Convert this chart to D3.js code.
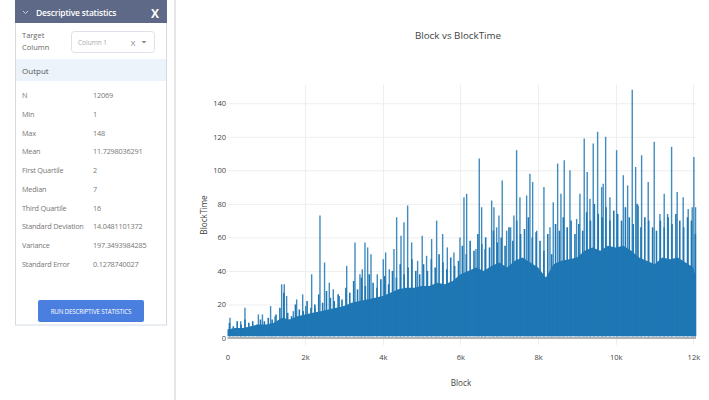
<!DOCTYPE html>
<html>
<head>
<meta charset="utf-8">
<script src="https://cdn.jsdelivr.net/npm/d3@7"></script>
<style>
  html, body { margin: 0; padding: 0; background: #fff; }
  svg { display: block; font-family: "Open Sans", sans-serif; }
</style>
</head>
<body>
<div id="chart"></div>
<script>
// stats panel
const statLabels = ["N", "Min", "Max", "Mean", "First Quartile", "Median", "Third Quartile", "Standard Deviation", "Variance", "Standard Error"];
const statValues = ["12069", "1", "148", "11.7298036291", "2", "7", "16", "14.0481101372", "197.3493984285", "0.1278740027"];

// dense part of the series (top of the solid band), read every 200 blocks
const bodyBlocks = [0, 200, 400, 600, 800, 1000, 1200, 1400, 1600, 1800, 2000, 2200, 2400, 2600, 2800, 3000, 3200, 3400, 3600, 3800,
  4000, 4200, 4400, 4600, 4800, 5000, 5200, 5400, 5600, 5800, 6000, 6200, 6400, 6600, 6800, 7000, 7200, 7400, 7600, 7800,
  8000, 8200, 8400, 8600, 8800, 9000, 9200, 9400, 9600, 9800, 10000, 10200, 10400, 10600, 10800, 11000, 11200, 11400, 11600, 11800,
  12000, 12068];
const bodyTimes = [5, 6, 6, 7, 8, 8, 9, 12, 11, 13, 14, 15, 16, 17, 18, 19, 21, 22, 23, 24,
  25, 27, 29, 30, 30, 31, 31, 33, 32, 34, 38, 40, 42, 40, 43, 45, 42, 46, 48, 45,
  42, 36, 44, 46, 47, 48, 52, 54, 52, 55, 54, 55, 52, 48, 46, 44, 48, 47, 48, 45,
  42, 35];

// medium spikes forming the ragged top of the band, one every 100 blocks (50, 150, ...)
const fringeBlocks = [50, 150, 250, 350, 450, 550, 650, 750, 850, 950, 1050, 1150, 1250, 1350, 1450, 1550, 1650, 1750, 1850, 1950,
  2050, 2150, 2250, 2350, 2450, 2550, 2650, 2750, 2850, 2950, 3050, 3150, 3250, 3350, 3450, 3550, 3650, 3750, 3850, 3950,
  4050, 4150, 4250, 4350, 4450, 4550, 4650, 4750, 4850, 4950, 5050, 5150, 5250, 5350, 5450, 5550, 5650, 5750, 5850, 5950,
  6050, 6150, 6250, 6350, 6450, 6550, 6650, 6750, 6850, 6950, 7050, 7150, 7250, 7350, 7450, 7550, 7650, 7750, 7850, 7950,
  8050, 8150, 8250, 8350, 8450, 8550, 8650, 8750, 8850, 8950, 9050, 9150, 9250, 9350, 9450, 9550, 9650, 9750, 9850, 9950,
  10050, 10150, 10250, 10350, 10450, 10550, 10650, 10750, 10850, 10950, 11050, 11150, 11250, 11350, 11450, 11550, 11650, 11750, 11850, 11950,
  12050];
const fringeTimes = [9, 7, 10, 8, 11, 9, 10, 8, 11, 10,
  12, 11, 14, 18, 27, 15, 13, 20, 17, 16,
  22, 18, 20, 26, 21, 28, 24, 22, 26, 23,
  30, 27, 34, 29, 36, 31, 38, 33, 30, 35,
  37, 32, 40, 36, 44, 38, 42, 47, 40, 38,
  44, 40, 47, 42, 50, 45, 41, 48, 43, 46,
  55, 50, 58, 52, 62, 56, 60, 54, 64, 57,
  60, 55, 66, 58, 70, 62, 65, 72, 60, 63,
  58, 52, 62, 50, 68, 64, 72, 66, 70, 62,
  68, 64, 75, 70, 80, 74, 72, 78, 70, 76,
  74, 70, 78, 72, 68, 80, 66, 72, 70, 66,
  64, 70, 66, 72, 68, 74, 70, 66, 72, 70,
  62];

// tall spikes sticking out of the band
const spikeBlocks = [64, 340, 450, 795, 900, 1110, 1223, 1395, 1462, 1523, 1695, 1781, 1936, 2013, 2168, 2253, 2382, 2500, 2622, 2725,
  2880, 3070, 3284, 3412, 3472, 3541, 3610, 3696, 3858, 4013, 4074, 4168, 4288, 4357, 4469, 4546, 4640, 4743, 4897, 5016,
  5128, 5258, 5387, 5542, 5662, 5833, 5988, 6091, 6160, 6400, 6485, 6546, 6632, 6804, 6863, 6933, 6992, 7077, 7190, 7293,
  7378, 7447, 7533, 7705, 7790, 7860, 7963, 8151, 8306, 8391, 8504, 8589, 8674, 8821, 8993, 9078, 9189, 9266, 9336, 9421,
  9534, 9637, 9678, 9740, 9851, 10023, 10195, 10307, 10426, 10513, 10580, 10667, 10837, 10992, 11138, 11249, 11336, 11439, 11583, 11738,
  11867, 11970, 12013, 12057];
const spikeTimes = [12, 10, 18, 14, 14, 19, 13, 32, 32, 25, 16, 23, 26, 19, 38, 18, 73, 45, 33, 29,
  25, 43, 57, 38, 41, 57, 54, 50, 38, 47, 51, 41, 53, 72, 61, 69, 79, 57, 46, 61,
  49, 59, 70, 62, 54, 51, 60, 84, 86, 53, 107, 78, 53, 82, 78, 66, 73, 94, 64, 66,
  73, 112, 84, 85, 98, 93, 64, 90, 66, 81, 104, 86, 106, 100, 71, 86, 119, 99, 83, 116,
  123, 90, 92, 120, 84, 112, 97, 91, 148, 102, 79, 109, 93, 117, 74, 86, 74, 114, 87, 84,
  77, 78, 108, 78];

const xTicks = [0, 2000, 4000, 6000, 8000, 10000, 12000];
const xTickLabels = ["0", "2k", "4k", "6k", "8k", "10k", "12k"];
const yTicks = [0, 20, 40, 60, 80, 100, 120, 140];

const width = 709, height = 400;
const blue = "#1f77b4";

const svg = d3.select("#chart").append("svg")
  .attr("width", width)
  .attr("height", height);

//------- LEFT PANEL -------
const panel = svg.append("g").attr("class", "panel");

panel.append("rect")
  .attr("x", 15.5).attr("y", -1).attr("width", 151).attr("height", 326)
  .attr("fill", "#fff").attr("stroke", "#d5dbe5");

panel.append("rect")
  .attr("x", 15).attr("y", 0).attr("width", 152).attr("height", 23)
  .attr("fill", "#5d6986");

panel.append("path")
  .attr("d", "M23,11 L25.5,13.5 L28,11")
  .attr("fill", "none").attr("stroke", "#c9cfdc").attr("stroke-width", 1);

panel.append("text")
  .attr("x", 36).attr("y", 15.5)
  .attr("fill", "#fff").attr("font-size", 8.5).attr("font-weight", 600)
  .attr("letter-spacing", -0.2)
  .text("Descriptive statistics");

panel.append("text")
  .attr("x", 155).attr("y", 17.5)
  .attr("text-anchor", "middle")
  .attr("fill", "#fff").attr("font-size", 12).attr("font-weight", 700)
  .text("X");

panel.append("text").attr("x", 22).attr("y", 38)
  .attr("fill", "#666").attr("font-size", 7.5).text("Target");
panel.append("text").attr("x", 22).attr("y", 50)
  .attr("fill", "#666").attr("font-size", 7.5).text("Column");

panel.append("rect")
  .attr("x", 71.5).attr("y", 31.5).attr("width", 83).attr("height", 21).attr("rx", 3)
  .attr("fill", "#fff").attr("stroke", "#dde2ea");
panel.append("text").attr("x", 78).attr("y", 45)
  .attr("fill", "#aaa").attr("font-size", 6.5).text("Column 1");
panel.append("text").attr("x", 133).attr("y", 45.5)
  .attr("text-anchor", "middle")
  .attr("fill", "#888").attr("font-size", 8).text("X");
panel.append("path")
  .attr("d", "M141.5,41 L146.5,41 L144,43.5 Z")
  .attr("fill", "#888");

panel.append("rect")
  .attr("x", 16).attr("y", 59).attr("width", 150).attr("height", 22)
  .attr("fill", "#edf3fb");
panel.append("text").attr("x", 22).attr("y", 73.5)
  .attr("fill", "#555").attr("font-size", 8).text("Output");

const rowY = d3.scaleLinear().domain([0, statLabels.length - 1]).range([98, 267]);

panel.selectAll("text.stat-label")
  .data(statLabels)
  .enter().append("text")
  .attr("class", "stat-label")
  .attr("x", 22)
  .attr("y", (d, i) => rowY(i))
  .attr("fill", "#777").attr("font-size", 7.3).attr("letter-spacing", -0.2)
  .text(d => d);

panel.selectAll("text.stat-value")
  .data(statValues)
  .enter().append("text")
  .attr("class", "stat-value")
  .attr("x", 93)
  .attr("y", (d, i) => rowY(i))
  .attr("fill", "#777").attr("font-size", 7.3).attr("letter-spacing", -0.2)
  .text(d => d);

panel.append("rect")
  .attr("x", 38).attr("y", 300).attr("width", 106).attr("height", 22).attr("rx", 2)
  .attr("fill", "#4a7fe0");
panel.append("text")
  .attr("x", 91).attr("y", 313.5)
  .attr("text-anchor", "middle")
  .attr("fill", "#fff").attr("font-size", 6.2).attr("letter-spacing", -0.15)
  .text("RUN DESCRIPTIVE STATISTICS");

// separator between panel and chart
svg.append("rect")
  .attr("x", 174).attr("y", 0).attr("width", 2).attr("height", height)
  .attr("fill", "#e6e6e6");

//------- CHART -------
const x = d3.scaleLinear().domain([0, 12068]).range([227.5, 696]);
const y = d3.scaleLinear().domain([-4.2, 150.9]).range([345, 85]);

const chart = svg.append("g").attr("class", "plot");

// grid
chart.append("g")
  .attr("class", "ygrid")
  .selectAll("line")
  .data(yTicks.filter(d => d > 0))
  .enter().append("line")
  .attr("x1", x.range()[0]).attr("x2", x.range()[1])
  .attr("y1", d => y(d) + 0.5).attr("y2", d => y(d) + 0.5)
  .attr("stroke", "#eeeeee").attr("stroke-width", 1);

chart.append("g")
  .attr("class", "xgrid")
  .selectAll("line")
  .data(xTicks.filter(d => d > 0))
  .enter().append("line")
  .attr("x1", d => Math.round(x(d)) + 0.5).attr("x2", d => Math.round(x(d)) + 0.5)
  .attr("y1", y.range()[1]).attr("y2", y.range()[0])
  .attr("stroke", "#eeeeee").attr("stroke-width", 1);

// dense band
const bodyData = bodyBlocks.map((b, i) => ({ block: b, time: bodyTimes[i] }));
const area = d3.area()
  .x(d => x(d.block))
  .y0(y(1))
  .y1(d => y(d.time));

chart.append("path")
  .datum(bodyData)
  .attr("d", area)
  .attr("fill", blue);

// ragged top of the band
const fringeData = fringeBlocks.map((b, i) => ({ block: b, time: fringeTimes[i] }));
chart.append("g")
  .attr("class", "fringe")
  .selectAll("line")
  .data(fringeData)
  .enter().append("line")
  .attr("x1", d => x(d.block)).attr("x2", d => x(d.block))
  .attr("y1", y(1)).attr("y2", d => y(d.time))
  .attr("stroke", blue).attr("stroke-width", 1.6);

// tall spikes
const spikeData = spikeBlocks.map((b, i) => ({ block: b, time: spikeTimes[i] }));
chart.append("g")
  .attr("class", "spikes")
  .selectAll("line")
  .data(spikeData)
  .enter().append("line")
  .attr("x1", d => x(d.block)).attr("x2", d => x(d.block))
  .attr("y1", y(1)).attr("y2", d => y(d.time))
  .attr("stroke", blue).attr("stroke-width", 1.4)
  .attr("stroke-opacity", 0.85);

// zero line
chart.append("line")
  .attr("x1", x.range()[0]).attr("x2", x.range()[1])
  .attr("y1", y(0)).attr("y2", y(0))
  .attr("stroke", "#999").attr("stroke-width", 1.5);

// axes
const xAxis = d3.axisBottom(x)
  .tickValues(xTicks)
  .tickFormat((d, i) => xTickLabels[i])
  .tickSize(0)
  .tickPadding(0);

chart.append("g")
  .attr("transform", "translate(0,355)")
  .call(xAxis)
  .call(g => g.select(".domain").remove())
  .selectAll("text")
  .attr("dy", "0.71em")
  .attr("fill", "#444").attr("font-size", 7.5)
  .attr("font-family", "Open Sans");

const yAxis = d3.axisLeft(y)
  .tickValues(yTicks)
  .tickSize(0)
  .tickPadding(0);

chart.append("g")
  .attr("transform", "translate(226,0)")
  .call(yAxis)
  .call(g => g.select(".domain").remove())
  .selectAll("text")
  .attr("fill", "#444").attr("font-size", 7.5)
  .attr("font-family", "Open Sans");

// titles
svg.append("text")
  .attr("x", 458).attr("y", 39)
  .attr("text-anchor", "middle")
  .attr("fill", "#444").attr("font-size", 9.8)
  .text("Block vs BlockTime");

svg.append("text")
  .attr("x", 461).attr("y", 386)
  .attr("text-anchor", "middle")
  .attr("fill", "#444").attr("font-size", 8.2)
  .text("Block");

svg.append("text")
  .attr("transform", "translate(207,215) rotate(-90)")
  .attr("text-anchor", "middle")
  .attr("fill", "#444").attr("font-size", 8.2)
  .text("BlockTime");
</script>
</body>
</html>
